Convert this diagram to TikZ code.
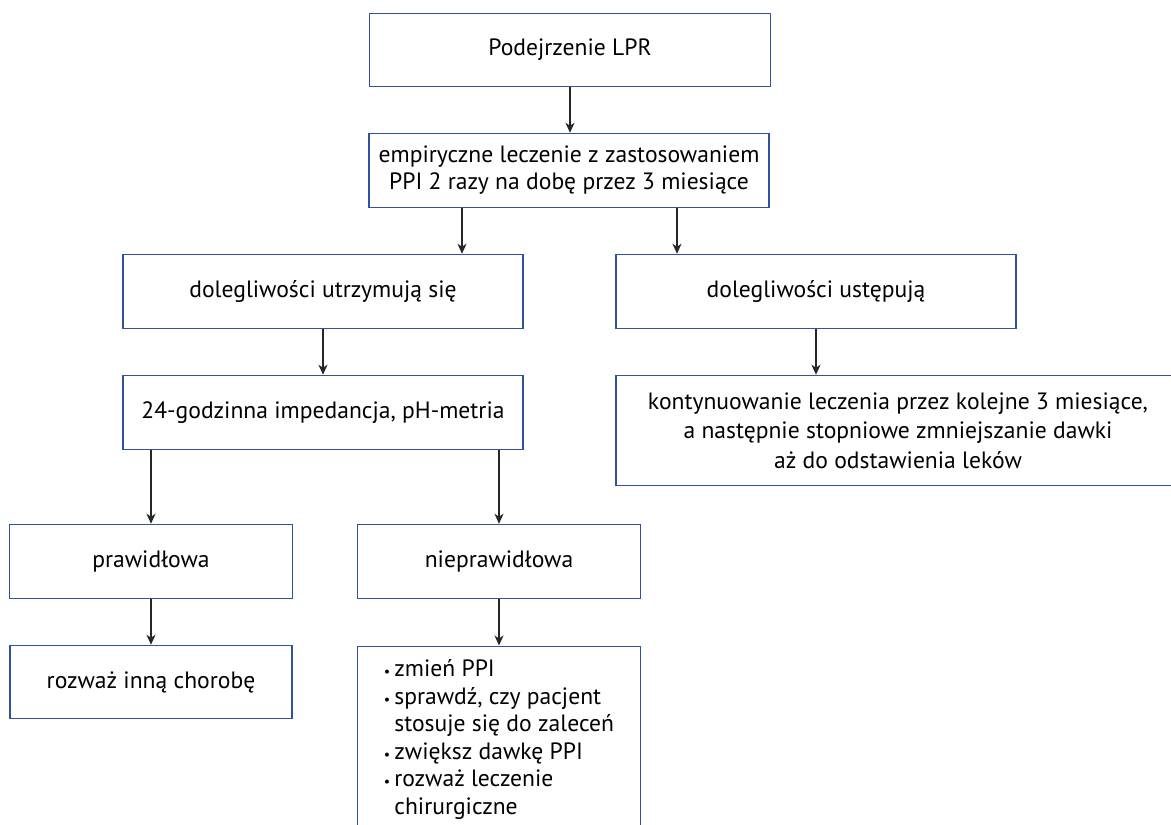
\documentclass[tikz,border=0pt]{standalone}
\usepackage{fontspec}
\setmainfont{PT Sans}
\usetikzlibrary{arrows.meta,calc}
\definecolor{boxblue}{HTML}{3050A0}
\begin{document}
\begin{tikzpicture}[x=1pt,y=-1pt,
  box/.style={draw=boxblue,line width=1.5pt,fill=white,inner sep=0pt,align=center,
    font=\fontsize{23.6}{27}\selectfont},
  arr/.style={-{Stealth[length=10pt,width=9pt,inset=3pt]},line width=1.2pt,draw=black!85,fill=black}]
\useasboundingbox (0,0) rectangle (1171,825);
\clip (0,0) rectangle (1171,825);

\node[box,minimum width=401pt,minimum height=73pt] (A) at (570,50) {Podejrzenie LPR};
\node[box,minimum width=400pt,minimum height=74pt] (B) at (569,170.5)
  {empiryczne leczenie z zastosowaniem\\PPI 2 razy na dobę przez 3 miesiące};
\node[box,minimum width=400pt,minimum height=74pt] (C) at (323,291.5) {dolegliwości utrzymują się};
\node[box,minimum width=400pt,minimum height=74pt] (D) at (816,291.5) {dolegliwości ustępują};
\node[box,minimum width=400pt,minimum height=74pt] (E) at (323,412.5) {24-godzinna impedancja, pH-metria};
\node[box,minimum width=283pt,minimum height=74pt] (F) at (151,561.5) {prawidłowa};
\node[box,minimum width=283pt,minimum height=74pt] (G) at (499,561.5) {nieprawidłowa};
\node[box,minimum width=282pt,minimum height=73pt] (H) at (151,682) {rozważ inną chorobę};
\node[box,minimum width=564pt,minimum height=110pt,font=\fontsize{23.6}{29.5}\selectfont] (J) at (898,430.5)
  {kontynuowanie leczenia przez kolejne 3 miesiące,\\a następnie stopniowe zmniejszanie dawki\\aż do odstawienia leków};
\node[box,minimum width=283pt,anchor=north,inner ysep=11pt,font=\fontsize{23.6}{27.5}\selectfont] (I) at (499,645.5)
  {\begin{tabular}{@{}l@{\hspace{4pt}}l@{}}
   \scalebox{0.6}{\textbullet} & zmień PPI\\
   \scalebox{0.6}{\textbullet} & sprawdź, czy pacjent\\
    & stosuje się do zaleceń\\
   \scalebox{0.6}{\textbullet} & zwiększ dawkę PPI\\
   \scalebox{0.6}{\textbullet} & rozważ leczenie\\
    & chirurgiczne
   \end{tabular}};

\draw[arr] (A.south) -- (A.south |- B.north);
\draw[arr] ([xshift=-107pt]B.south) -- ([xshift=-107pt]B.south |- C.north);
\draw[arr] ([xshift=108pt]B.south) -- ([xshift=108pt]B.south |- D.north);
\draw[arr] (C.south) -- (C.south |- E.north);
\draw[arr] (D.south) -- (D.south |- J.north);
\draw[arr] (E.south -| F.north) -- (F.north);
\draw[arr] (E.south -| G.north) -- (G.north);
\draw[arr] (F.south) -- (F.south |- H.north);
\draw[arr] (G.south) -- (G.south |- I.north);
\end{tikzpicture}
\end{document}
